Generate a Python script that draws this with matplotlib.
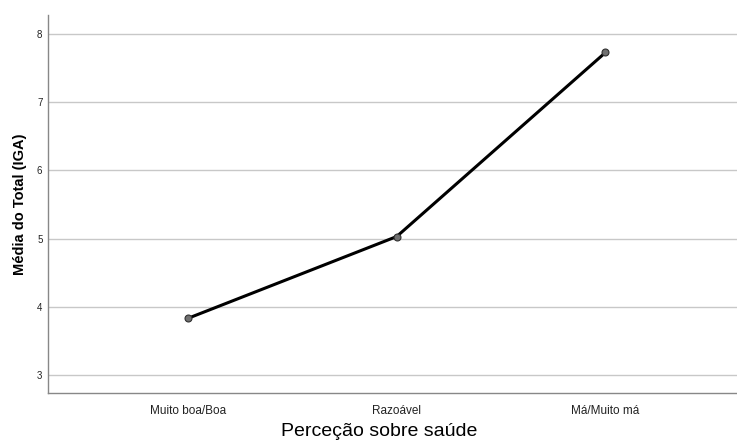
import matplotlib.pyplot as plt

categories = ["Muito boa/Boa", "Razoável", "Má/Muito má"]
means = [3.83, 5.03, 7.73]
yticks = [3, 4, 5, 6, 7, 8]

plt.rcParams['font.family'] = ['Liberation Sans', 'DejaVu Sans']

fig = plt.figure(figsize=(7.37, 4.44), dpi=100)
ax = fig.add_axes([48 / 737, 1 - 393 / 444, 1 - 48 / 737, (393 - 15) / 444])

x = range(len(categories))
ax.plot(x, means, color='black', linewidth=2.2, zorder=3)
ax.plot(x, means, linestyle='none', marker='o', markersize=5,
        markerfacecolor='#707070', markeredgecolor='#303030', markeredgewidth=0.8, zorder=4)

ax.set_xlim(-0.67, 2.63)
ax.set_ylim(2.735, 8.28)
ax.set_xticks(list(x))
ax.set_xticklabels(categories, fontsize=8.5, color='#222222')
ax.set_yticks(yticks)
ax.set_yticklabels([str(t) for t in yticks], fontsize=7, color='#222222')
ax.tick_params(length=0)
ax.tick_params(axis='y', pad=4)
ax.tick_params(axis='x', pad=9)

ax.grid(axis='y', color='#c8c8c8', linewidth=1)
ax.set_axisbelow(True)
for side in ['top', 'right']:
    ax.spines[side].set_visible(False)
for side in ['left', 'bottom']:
    ax.spines[side].set_color('#888888')
    ax.spines[side].set_linewidth(1)

ax.set_xlabel("Perceção sobre saúde", fontsize=14)
ax.xaxis.set_label_coords((379 - 48) / 689, -0.079)
ax.set_ylabel("Média do Total (IGA)", fontsize=10.5, fontweight='bold')
ax.yaxis.set_label_coords(-21 / 689, 0.5)

fig.savefig("out.png", dpi=100)
